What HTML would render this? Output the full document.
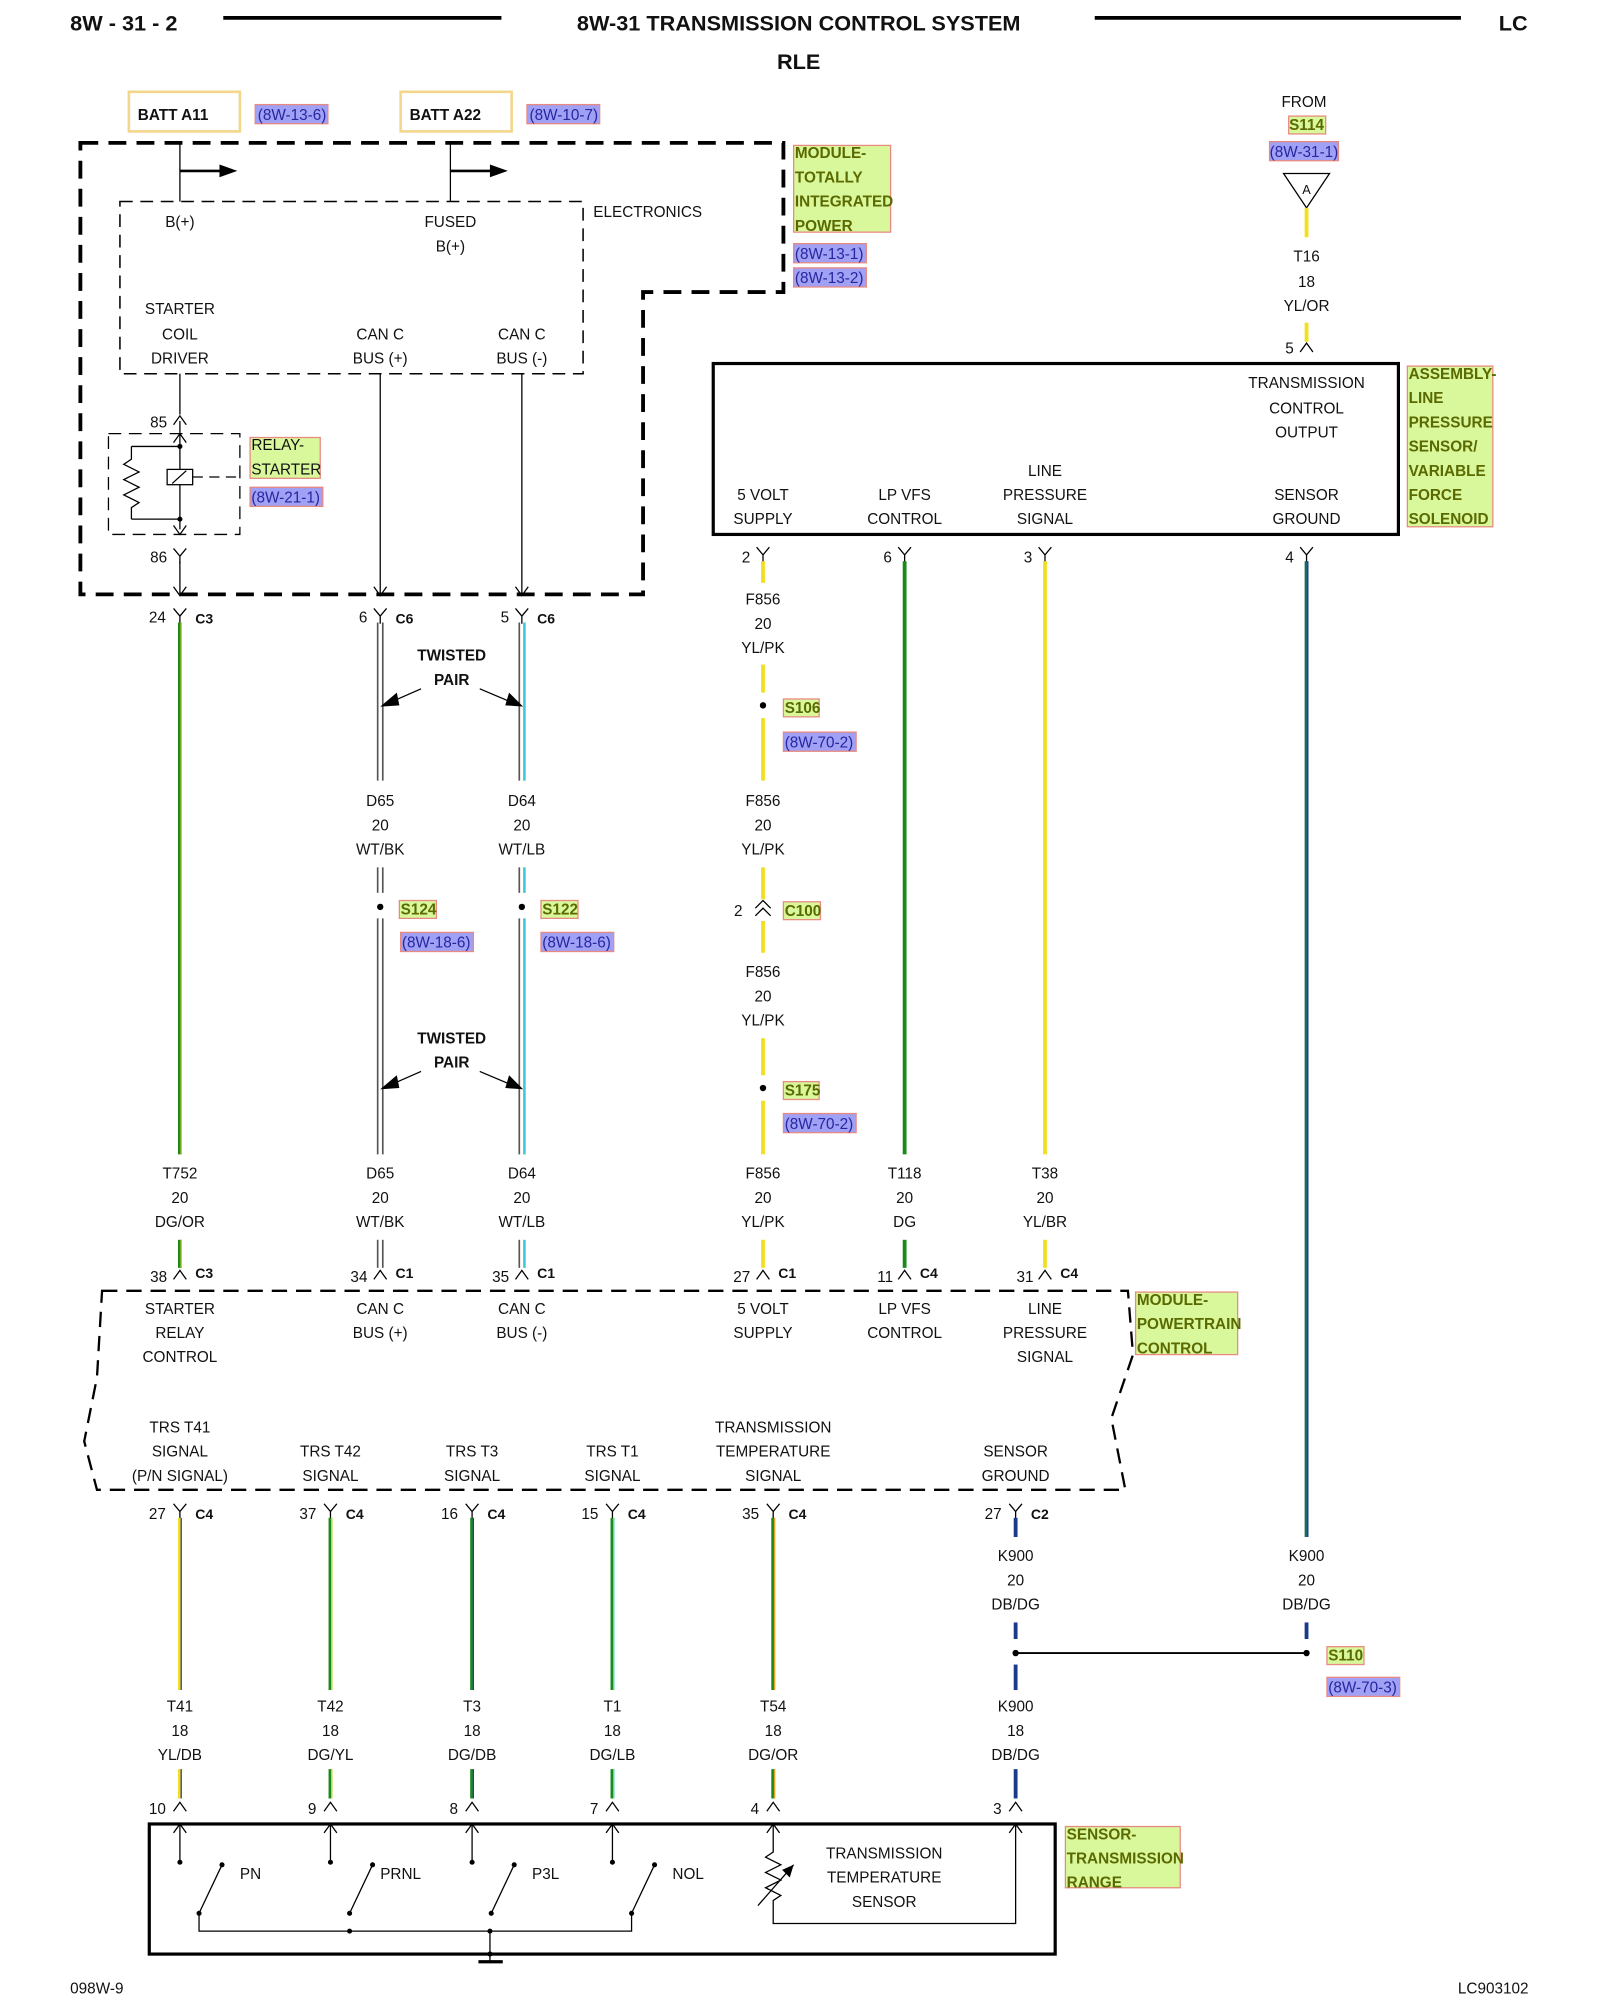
<!DOCTYPE html>
<html><head><meta charset="utf-8"><style>
html,body{margin:0;padding:0;background:#fff}
svg{display:block}
text{font-family:"Liberation Sans",Arial,sans-serif;font-size:12px;fill:#111}
.c{text-anchor:middle}
.b{font-weight:bold}
.h{font-size:17px;font-weight:bold}
.g{fill:#5a6a00;font-weight:bold}
.bl{fill:#2626a0}
</style></head><body>
<svg width="1600" height="2000" viewBox="0 0 1254 1568" preserveAspectRatio="none" xmlns="http://www.w3.org/2000/svg">
<defs>
<g id="fy"><path d="M-5,-6 L0,0 L5,-6 M0,0 V6" stroke="#000" fill="none" stroke-width="1"/></g>
<g id="fa"><path d="M-5,5 L0,-2 L5,5" stroke="#000" fill="none" stroke-width="1"/></g>
</defs>
<!-- header -->
<text x="55" y="24" class="h">8W - 31 - 2</text>
<line x1="175" y1="14" x2="393" y2="14" stroke="#000" stroke-width="3"/>
<text x="626" y="24" class="h c">8W-31 TRANSMISSION CONTROL SYSTEM</text>
<line x1="858" y1="14" x2="1145" y2="14" stroke="#000" stroke-width="3"/>
<text x="1186" y="24" class="h c">LC</text>
<text x="626" y="54" class="h c">RLE</text>

<!-- batt boxes -->
<rect x="101" y="72" width="87" height="31" fill="none" stroke="#f3d68a" stroke-width="2"/>
<text x="108" y="94" class="b">BATT A11</text>
<rect x="200" y="82" width="57" height="15" fill="#a0a0f5" stroke="#e98a80"/>
<text x="202" y="94" class="bl">(8W-13-6)</text>
<rect x="314" y="72" width="87" height="31" fill="none" stroke="#f3d68a" stroke-width="2"/>
<text x="321" y="94" class="b">BATT A22</text>
<rect x="413" y="82" width="57" height="15" fill="#a0a0f5" stroke="#e98a80"/>
<text x="415" y="94" class="bl">(8W-10-7)</text>

<!-- TIPM -->
<path d="M63,112 H614 V229 H504 V466 H63 Z" fill="none" stroke="#000" stroke-width="3" stroke-dasharray="14,8"/>
<rect x="94" y="158" width="363" height="135" fill="none" stroke="#000" stroke-width="1.2" stroke-dasharray="10,6"/>
<line x1="141" y1="112" x2="141" y2="158" stroke="#000"/>
<line x1="353" y1="112" x2="353" y2="158" stroke="#000"/>
<line x1="141" y1="134" x2="175" y2="134" stroke="#000" stroke-width="2"/>
<path d="M172,129 L186,134 L172,139 Z"/>
<line x1="353" y1="134" x2="387" y2="134" stroke="#000" stroke-width="2"/>
<path d="M384,129 L398,134 L384,139 Z"/>
<text x="141" y="178" class="c">B(+)</text>
<text x="353" y="178" class="c">FUSED</text>
<text x="353" y="197" class="c">B(+)</text>
<text x="465" y="170">ELECTRONICS</text>
<text x="141" y="246" class="c">STARTER</text>
<text x="141" y="266" class="c">COIL</text>
<text x="141" y="285" class="c">DRIVER</text>
<text x="298" y="266" class="c">CAN C</text>
<text x="298" y="285" class="c">BUS (+)</text>
<text x="409" y="266" class="c">CAN C</text>
<text x="409" y="285" class="c">BUS (-)</text>
<rect x="622" y="114" width="76" height="68" fill="#d9f79b" stroke="#e98a80"/>
<text x="623" y="124" class="g">MODULE-</text>
<text x="623" y="143" class="g">TOTALLY</text>
<text x="623" y="162" class="g">INTEGRATED</text>
<text x="623" y="181" class="g">POWER</text>
<rect x="622" y="191" width="57" height="15" fill="#a0a0f5" stroke="#e98a80"/>
<text x="623" y="203" class="bl">(8W-13-1)</text>
<rect x="622" y="210" width="57" height="15" fill="#a0a0f5" stroke="#e98a80"/>
<text x="623" y="222" class="bl">(8W-13-2)</text>

<!-- relay -->
<line x1="141" y1="293" x2="141" y2="325" stroke="#000"/>
<use href="#fa" x="141" y="328"/>
<text x="131" y="335" text-anchor="end">85</text>
<rect x="85" y="340" width="103" height="79" fill="none" stroke="#000" stroke-dasharray="10,6"/>
<line x1="141" y1="330" x2="141" y2="415" stroke="#000"/>
<path d="M141,350 H103 M141,407 H103" stroke="#000" fill="none"/>
<path d="M103,350 V360 L97,364 L109,370 L97,376 L109,382 L97,388 L109,394 L103,398 V407" stroke="#000" fill="none"/>
<rect x="131" y="368" width="20" height="12" fill="#fff" stroke="#000"/>
<line x1="135" y1="379" x2="146" y2="369" stroke="#000"/>
<line x1="151" y1="374" x2="185" y2="374" stroke="#000" stroke-dasharray="8,5"/>
<circle cx="141" cy="350" r="2"/><circle cx="141" cy="407" r="2"/>
<path d="M136,347 L141,340 L146,347 M136,412 L141,419 L146,412" stroke="#000" fill="none"/>
<rect x="196" y="343" width="55" height="32" fill="#d9f79b" stroke="#e98a80"/>
<text x="197" y="353" fill="#8a9a30">RELAY-</text>
<text x="197" y="372" fill="#8a9a30">STARTER</text>
<rect x="196" y="382" width="57" height="15" fill="#a0a0f5" stroke="#e98a80"/>
<text x="197" y="394" class="bl">(8W-21-1)</text>
<text x="131" y="441" text-anchor="end">86</text>
<use href="#fy" x="141" y="436"/>
<line x1="141" y1="440" x2="141" y2="466" stroke="#000"/>
<line x1="298" y1="293" x2="298" y2="466" stroke="#000"/>
<line x1="409" y1="293" x2="409" y2="466" stroke="#000"/>
<path d="M136,460 L141,467 L146,460 M293,460 L298,467 L303,460 M404,460 L409,467 L414,460" stroke="#000" fill="none"/>

<!-- top right -->
<text x="1022" y="84" class="c">FROM</text>
<rect x="1010" y="91" width="29" height="14" fill="#d9f79b" stroke="#e98a80"/>
<text x="1024" y="102" class="c g">S114</text>
<rect x="995" y="111" width="54" height="15" fill="#a0a0f5" stroke="#e98a80"/>
<text x="1022" y="123" class="c bl">(8W-31-1)</text>
<path d="M1006,136 L1042,136 L1024,163 Z" fill="#fff" stroke="#000"/>
<text x="1024" y="152" class="c" style="font-size:10px">A</text>
<line x1="1024" y1="163" x2="1024" y2="186" stroke="#f0e020" stroke-width="3"/>
<text x="1024" y="205" class="c">T16</text>
<text x="1024" y="225" class="c">18</text>
<text x="1024" y="244" class="c">YL/OR</text>
<line x1="1024" y1="253" x2="1024" y2="268" stroke="#f0e020" stroke-width="3"/>
<use href="#fa" x="1024" y="271"/>
<text x="1014" y="277" text-anchor="end">5</text>

<rect x="559" y="285" width="537" height="134" fill="none" stroke="#000" stroke-width="2.5"/>
<text x="1024" y="304" class="c">TRANSMISSION</text>
<text x="1024" y="324" class="c">CONTROL</text>
<text x="1024" y="343" class="c">OUTPUT</text>
<text x="819" y="373" class="c">LINE</text>
<text x="598" y="392" class="c">5 VOLT</text>
<text x="709" y="392" class="c">LP VFS</text>
<text x="819" y="392" class="c">PRESSURE</text>
<text x="1024" y="392" class="c">SENSOR</text>
<text x="598" y="411" class="c">SUPPLY</text>
<text x="709" y="411" class="c">CONTROL</text>
<text x="819" y="411" class="c">SIGNAL</text>
<text x="1024" y="411" class="c">GROUND</text>
<rect x="1103" y="287" width="67" height="126" fill="#d9f79b" stroke="#e98a80"/>
<text x="1104" y="297" class="g">ASSEMBLY-</text>
<text x="1104" y="316" class="g">LINE</text>
<text x="1104" y="335" class="g">PRESSURE</text>
<text x="1104" y="354" class="g">SENSOR/</text>
<text x="1104" y="373" class="g">VARIABLE</text>
<text x="1104" y="392" class="g">FORCE</text>
<text x="1104" y="411" class="g">SOLENOID</text>

<!-- connectors under box -->
<use href="#fy" x="598" y="435"/><text x="588" y="441" text-anchor="end">2</text>
<use href="#fy" x="709" y="435"/><text x="699" y="441" text-anchor="end">6</text>
<use href="#fy" x="819" y="435"/><text x="809" y="441" text-anchor="end">3</text>
<use href="#fy" x="1024" y="435"/><text x="1014" y="441" text-anchor="end">4</text>

<!-- 598 yellow wire -->
<g stroke="#f0e020" stroke-width="3">
<line x1="598" y1="440" x2="598" y2="457"/>
<line x1="598" y1="521" x2="598" y2="543"/>
<line x1="598" y1="563" x2="598" y2="612"/>
<line x1="598" y1="680" x2="598" y2="705"/>
<line x1="598" y1="722" x2="598" y2="747"/>
<line x1="598" y1="814" x2="598" y2="843"/>
<line x1="598" y1="863" x2="598" y2="905"/>
<line x1="598" y1="972" x2="598" y2="994"/>
<line x1="819" y1="440" x2="819" y2="905"/>
<line x1="819" y1="972" x2="819" y2="994"/>
</g>
<line x1="709" y1="440" x2="709" y2="905" stroke="#1a8a1a" stroke-width="3"/>
<line x1="709" y1="972" x2="709" y2="994" stroke="#1a8a1a" stroke-width="3"/>
<line x1="1024" y1="440" x2="1024" y2="1205" stroke="#1a6a6a" stroke-width="3"/>
<line x1="1025" y1="440" x2="1025" y2="1205" stroke="#1a3a9a" stroke-width="1"/>
<text x="598" y="474" class="c">F856</text><text x="598" y="493" class="c">20</text><text x="598" y="512" class="c">YL/PK</text>
<circle cx="598" cy="553" r="2.5"/>
<rect x="614" y="548" width="28" height="14" fill="#d9f79b" stroke="#e98a80"/><text x="615" y="559" class="g">S106</text>
<rect x="614" y="574" width="57" height="15" fill="#a0a0f5" stroke="#e98a80"/><text x="615" y="586" class="bl">(8W-70-2)</text>
<text x="598" y="632" class="c">F856</text><text x="598" y="651" class="c">20</text><text x="598" y="670" class="c">YL/PK</text>
<path d="M592,712 L598,706 L604,712 M592,718 L598,712 L604,718" stroke="#000" fill="none"/>
<text x="582" y="718" text-anchor="end">2</text>
<rect x="614" y="707" width="29" height="14" fill="#d9f79b" stroke="#e98a80"/><text x="615" y="718" class="g">C100</text>
<text x="598" y="766" class="c">F856</text><text x="598" y="785" class="c">20</text><text x="598" y="804" class="c">YL/PK</text>
<circle cx="598" cy="853" r="2.5"/>
<rect x="614" y="848" width="28" height="14" fill="#d9f79b" stroke="#e98a80"/><text x="615" y="859" class="g">S175</text>
<rect x="614" y="873" width="57" height="15" fill="#a0a0f5" stroke="#e98a80"/><text x="615" y="885" class="bl">(8W-70-2)</text>

<!-- C3/C6 connectors -->
<use href="#fy" x="141" y="483"/><text x="130" y="488" text-anchor="end">24</text><text x="153" y="489" class="b" style="font-size:11px">C3</text>
<use href="#fy" x="298" y="483"/><text x="288" y="488" text-anchor="end">6</text><text x="310" y="489" class="b" style="font-size:11px">C6</text>
<use href="#fy" x="409" y="483"/><text x="399" y="488" text-anchor="end">5</text><text x="421" y="489" class="b" style="font-size:11px">C6</text>
<!-- 141 DG/OR -->
<line x1="141" y1="488" x2="141" y2="905" stroke="#1a8a1a" stroke-width="3"/>
<line x1="142" y1="488" x2="142" y2="905" stroke="#e0d020" stroke-width="1"/>
<line x1="141" y1="972" x2="141" y2="994" stroke="#1a8a1a" stroke-width="3"/>
<line x1="142" y1="972" x2="142" y2="994" stroke="#e0d020" stroke-width="1"/>
<!-- twisted pairs -->
<g stroke-width="1.3">
<line x1="296" y1="488" x2="296" y2="612" stroke="#555"/><line x1="300" y1="488" x2="300" y2="612" stroke="#555"/>
<line x1="296" y1="680" x2="296" y2="700" stroke="#555"/><line x1="300" y1="680" x2="300" y2="700" stroke="#555"/>
<line x1="296" y1="720" x2="296" y2="905" stroke="#555"/><line x1="300" y1="720" x2="300" y2="905" stroke="#555"/>
<line x1="296" y1="972" x2="296" y2="994" stroke="#555"/><line x1="300" y1="972" x2="300" y2="994" stroke="#555"/>
<line x1="407" y1="488" x2="407" y2="612" stroke="#555"/><line x1="411" y1="488" x2="411" y2="612" stroke="#3cc8d8" stroke-width="2"/>
<line x1="407" y1="680" x2="407" y2="700" stroke="#555"/><line x1="411" y1="680" x2="411" y2="700" stroke="#3cc8d8" stroke-width="2"/>
<line x1="407" y1="720" x2="407" y2="905" stroke="#555"/><line x1="411" y1="720" x2="411" y2="905" stroke="#3cc8d8" stroke-width="2"/>
<line x1="407" y1="972" x2="407" y2="994" stroke="#555"/><line x1="411" y1="972" x2="411" y2="994" stroke="#3cc8d8" stroke-width="2"/>
</g>
<text x="354" y="518" class="c b">TWISTED</text><text x="354" y="537" class="c b">PAIR</text>
<line x1="330" y1="540" x2="305" y2="551" stroke="#000"/><path d="M298,554 L311,543 L313,553 Z"/>
<line x1="376" y1="540" x2="402" y2="551" stroke="#000"/><path d="M410,554 L396,553 L399,543 Z"/>
<text x="354" y="818" class="c b">TWISTED</text><text x="354" y="837" class="c b">PAIR</text>
<line x1="330" y1="840" x2="305" y2="851" stroke="#000"/><path d="M298,854 L311,843 L313,853 Z"/>
<line x1="376" y1="840" x2="402" y2="851" stroke="#000"/><path d="M410,854 L396,853 L399,843 Z"/>
<text x="298" y="632" class="c">D65</text><text x="298" y="651" class="c">20</text><text x="298" y="670" class="c">WT/BK</text>
<text x="409" y="632" class="c">D64</text><text x="409" y="651" class="c">20</text><text x="409" y="670" class="c">WT/LB</text>
<circle cx="298" cy="711" r="2.5"/><circle cx="409" cy="711" r="2.5"/>
<rect x="313" y="706" width="29" height="14" fill="#d9f79b" stroke="#e98a80"/><text x="314" y="717" class="g">S124</text>
<rect x="424" y="706" width="29" height="14" fill="#d9f79b" stroke="#e98a80"/><text x="425" y="717" class="g">S122</text>
<rect x="314" y="731" width="57" height="15" fill="#a0a0f5" stroke="#e98a80"/><text x="315" y="743" class="bl">(8W-18-6)</text>
<rect x="424" y="731" width="57" height="15" fill="#a0a0f5" stroke="#e98a80"/><text x="425" y="743" class="bl">(8W-18-6)</text>

<!-- labels row 924 -->
<text x="141" y="924" class="c">T752</text><text x="141" y="943" class="c">20</text><text x="141" y="962" class="c">DG/OR</text>
<text x="298" y="924" class="c">D65</text><text x="298" y="943" class="c">20</text><text x="298" y="962" class="c">WT/BK</text>
<text x="409" y="924" class="c">D64</text><text x="409" y="943" class="c">20</text><text x="409" y="962" class="c">WT/LB</text>
<text x="598" y="924" class="c">F856</text><text x="598" y="943" class="c">20</text><text x="598" y="962" class="c">YL/PK</text>
<text x="709" y="924" class="c">T118</text><text x="709" y="943" class="c">20</text><text x="709" y="962" class="c">DG</text>
<text x="819" y="924" class="c">T38</text><text x="819" y="943" class="c">20</text><text x="819" y="962" class="c">YL/BR</text>
<!-- PCM connectors -->
<use href="#fa" x="141" y="998"/><text x="131" y="1005" text-anchor="end">38</text><text x="153" y="1002" class="b" style="font-size:11px">C3</text>
<use href="#fa" x="298" y="998"/><text x="288" y="1005" text-anchor="end">34</text><text x="310" y="1002" class="b" style="font-size:11px">C1</text>
<use href="#fa" x="409" y="998"/><text x="399" y="1005" text-anchor="end">35</text><text x="421" y="1002" class="b" style="font-size:11px">C1</text>
<use href="#fa" x="598" y="998"/><text x="588" y="1005" text-anchor="end">27</text><text x="610" y="1002" class="b" style="font-size:11px">C1</text>
<use href="#fa" x="709" y="998"/><text x="700" y="1005" text-anchor="end">11</text><text x="721" y="1002" class="b" style="font-size:11px">C4</text>
<use href="#fa" x="819" y="998"/><text x="810" y="1005" text-anchor="end">31</text><text x="831" y="1002" class="b" style="font-size:11px">C4</text>

<path d="M80,1012 H884 L888,1062 L871,1112 L882,1168 H76 L66,1130 L76,1080 Z" fill="none" stroke="#000" stroke-width="1.8" stroke-dasharray="12,7"/>
<text x="141" y="1030" class="c">STARTER</text><text x="141" y="1049" class="c">RELAY</text><text x="141" y="1068" class="c">CONTROL</text>
<text x="298" y="1030" class="c">CAN C</text><text x="298" y="1049" class="c">BUS (+)</text>
<text x="409" y="1030" class="c">CAN C</text><text x="409" y="1049" class="c">BUS (-)</text>
<text x="598" y="1030" class="c">5 VOLT</text><text x="598" y="1049" class="c">SUPPLY</text>
<text x="709" y="1030" class="c">LP VFS</text><text x="709" y="1049" class="c">CONTROL</text>
<text x="819" y="1030" class="c">LINE</text><text x="819" y="1049" class="c">PRESSURE</text><text x="819" y="1068" class="c">SIGNAL</text>
<rect x="890" y="1013" width="80" height="49" fill="#d9f79b" stroke="#e98a80"/>
<text x="891" y="1023" class="g">MODULE-</text><text x="891" y="1042" class="g">POWERTRAIN</text><text x="891" y="1061" class="g">CONTROL</text>
<text x="141" y="1123" class="c">TRS T41</text><text x="141" y="1142" class="c">SIGNAL</text><text x="141" y="1161" class="c">(P/N SIGNAL)</text>
<text x="259" y="1142" class="c">TRS T42</text><text x="259" y="1161" class="c">SIGNAL</text>
<text x="370" y="1142" class="c">TRS T3</text><text x="370" y="1161" class="c">SIGNAL</text>
<text x="480" y="1142" class="c">TRS T1</text><text x="480" y="1161" class="c">SIGNAL</text>
<text x="606" y="1123" class="c">TRANSMISSION</text><text x="606" y="1142" class="c">TEMPERATURE</text><text x="606" y="1161" class="c">SIGNAL</text>
<text x="796" y="1142" class="c">SENSOR</text><text x="796" y="1161" class="c">GROUND</text>

<!-- lower wires -->
<g>
<use href="#fy" x="141" y="1185"/><text x="130" y="1191" text-anchor="end">27</text><text x="153" y="1191" class="b" style="font-size:11px">C4</text>
<use href="#fy" x="259" y="1185"/><text x="248" y="1191" text-anchor="end">37</text><text x="271" y="1191" class="b" style="font-size:11px">C4</text>
<use href="#fy" x="370" y="1185"/><text x="359" y="1191" text-anchor="end">16</text><text x="382" y="1191" class="b" style="font-size:11px">C4</text>
<use href="#fy" x="480" y="1185"/><text x="469" y="1191" text-anchor="end">15</text><text x="492" y="1191" class="b" style="font-size:11px">C4</text>
<use href="#fy" x="606" y="1185"/><text x="595" y="1191" text-anchor="end">35</text><text x="618" y="1191" class="b" style="font-size:11px">C4</text>
<use href="#fy" x="796" y="1185"/><text x="785" y="1191" text-anchor="end">27</text><text x="808" y="1191" class="b" style="font-size:11px">C2</text>
</g>
<g stroke-width="3">
<line x1="141" y1="1190" x2="141" y2="1325" stroke="#f0e020"/>
<line x1="259" y1="1190" x2="259" y2="1325" stroke="#1a8a1a"/>
<line x1="370" y1="1190" x2="370" y2="1325" stroke="#1a8a1a"/>
<line x1="480" y1="1190" x2="480" y2="1325" stroke="#1a8a1a"/>
<line x1="606" y1="1190" x2="606" y2="1325" stroke="#1a8a1a"/>
<line x1="796" y1="1190" x2="796" y2="1205" stroke="#1a3a8a"/>
<line x1="796" y1="1272" x2="796" y2="1285" stroke="#1a3a8a"/>
<line x1="796" y1="1305" x2="796" y2="1325" stroke="#1a3a8a"/>
<line x1="1024" y1="1272" x2="1024" y2="1285" stroke="#1a3a8a"/>
<line x1="141" y1="1387" x2="141" y2="1410" stroke="#f0e020"/>
<line x1="259" y1="1387" x2="259" y2="1410" stroke="#1a8a1a"/>
<line x1="370" y1="1387" x2="370" y2="1410" stroke="#1a8a1a"/>
<line x1="480" y1="1387" x2="480" y2="1410" stroke="#1a8a1a"/>
<line x1="606" y1="1387" x2="606" y2="1410" stroke="#1a8a1a"/>
<line x1="796" y1="1387" x2="796" y2="1410" stroke="#1a3a8a"/>
</g>
<g stroke-width="1">
<line x1="142" y1="1190" x2="142" y2="1325" stroke="#2a3aa0"/><line x1="142" y1="1387" x2="142" y2="1410" stroke="#2a3aa0"/>
<line x1="260" y1="1190" x2="260" y2="1325" stroke="#e0e020"/><line x1="260" y1="1387" x2="260" y2="1410" stroke="#e0e020"/>
<line x1="371" y1="1190" x2="371" y2="1325" stroke="#2a3aa0"/><line x1="371" y1="1387" x2="371" y2="1410" stroke="#2a3aa0"/>
<line x1="481" y1="1190" x2="481" y2="1325" stroke="#50e0e0"/><line x1="481" y1="1387" x2="481" y2="1410" stroke="#50e0e0"/>
<line x1="607" y1="1190" x2="607" y2="1325" stroke="#e0a020"/><line x1="607" y1="1387" x2="607" y2="1410" stroke="#e0a020"/>
</g>
<text x="796" y="1224" class="c">K900</text><text x="796" y="1243" class="c">20</text><text x="796" y="1262" class="c">DB/DG</text>
<text x="1024" y="1224" class="c">K900</text><text x="1024" y="1243" class="c">20</text><text x="1024" y="1262" class="c">DB/DG</text>
<line x1="796" y1="1296" x2="1024" y2="1296" stroke="#000" stroke-width="1.5"/>
<circle cx="796" cy="1296" r="2.5"/><circle cx="1024" cy="1296" r="2.5"/>
<rect x="1040" y="1291" width="29" height="14" fill="#d9f79b" stroke="#e98a80"/><text x="1041" y="1302" class="g">S110</text>
<rect x="1040" y="1315" width="57" height="15" fill="#a0a0f5" stroke="#e98a80"/><text x="1041" y="1327" class="bl">(8W-70-3)</text>
<text x="141" y="1342" class="c">T41</text><text x="141" y="1361" class="c">18</text><text x="141" y="1380" class="c">YL/DB</text>
<text x="259" y="1342" class="c">T42</text><text x="259" y="1361" class="c">18</text><text x="259" y="1380" class="c">DG/YL</text>
<text x="370" y="1342" class="c">T3</text><text x="370" y="1361" class="c">18</text><text x="370" y="1380" class="c">DG/DB</text>
<text x="480" y="1342" class="c">T1</text><text x="480" y="1361" class="c">18</text><text x="480" y="1380" class="c">DG/LB</text>
<text x="606" y="1342" class="c">T54</text><text x="606" y="1361" class="c">18</text><text x="606" y="1380" class="c">DG/OR</text>
<text x="796" y="1342" class="c">K900</text><text x="796" y="1361" class="c">18</text><text x="796" y="1380" class="c">DB/DG</text>
<use href="#fa" x="141" y="1415"/><text x="130" y="1422" text-anchor="end">10</text>
<use href="#fa" x="259" y="1415"/><text x="248" y="1422" text-anchor="end">9</text>
<use href="#fa" x="370" y="1415"/><text x="359" y="1422" text-anchor="end">8</text>
<use href="#fa" x="480" y="1415"/><text x="469" y="1422" text-anchor="end">7</text>
<use href="#fa" x="606" y="1415"/><text x="595" y="1422" text-anchor="end">4</text>
<use href="#fa" x="796" y="1415"/><text x="785" y="1422" text-anchor="end">3</text>

<!-- sensor box -->
<rect x="117" y="1430" width="710" height="102" fill="none" stroke="#000" stroke-width="2.5"/>
<g stroke="#000" fill="none">
<path d="M136,1437 L141,1430 L146,1437 M141,1430 V1460"/>
<path d="M254,1437 L259,1430 L264,1437 M259,1430 V1460"/>
<path d="M365,1437 L370,1430 L375,1437 M370,1430 V1460"/>
<path d="M475,1437 L480,1430 L485,1437 M480,1430 V1460"/>
<path d="M601,1437 L606,1430 L611,1437 M606,1430 V1452 L600,1456 L612,1462 L600,1468 L612,1474 L600,1480 L612,1486 L606,1490 V1508 H796 V1430 M791,1437 L796,1430 L801,1437"/>
<path d="M594,1494 L622,1462"/>
<path d="M156,1500 L174,1462 M274,1500 L292,1462 M385,1500 L403,1462 M495,1500 L513,1462"/>
<path d="M156,1500 V1514 H495 V1500"/>
<path d="M384,1514 V1538 M375,1538 H394"/>
</g>
<path d="M622,1462 L613,1466 L619,1472 Z"/>
<g>
<circle cx="141" cy="1460" r="2"/><circle cx="259" cy="1460" r="2"/><circle cx="370" cy="1460" r="2"/><circle cx="480" cy="1460" r="2"/>
<circle cx="174" cy="1462" r="2"/><circle cx="292" cy="1462" r="2"/><circle cx="403" cy="1462" r="2"/><circle cx="513" cy="1462" r="2"/>
<circle cx="156" cy="1500" r="2"/><circle cx="274" cy="1500" r="2"/><circle cx="385" cy="1500" r="2"/><circle cx="495" cy="1500" r="2"/>
<circle cx="274" cy="1514" r="2"/><circle cx="384" cy="1514" r="2"/><circle cx="384" cy="1532" r="2"/>
</g>
<line x1="375" y1="1538" x2="394" y2="1538" stroke="#000" stroke-width="2.5"/>
<text x="188" y="1473">PN</text><text x="298" y="1473">PRNL</text><text x="417" y="1473">P3L</text><text x="527" y="1473">NOL</text>
<text x="693" y="1457" class="c">TRANSMISSION</text><text x="693" y="1476" class="c">TEMPERATURE</text><text x="693" y="1495" class="c">SENSOR</text>
<rect x="835" y="1432" width="90" height="48" fill="#d9f79b" stroke="#e98a80"/>
<text x="836" y="1442" class="g">SENSOR-</text><text x="836" y="1461" class="g">TRANSMISSION</text><text x="836" y="1480" class="g">RANGE</text>
<text x="55" y="1563">098W-9</text>
<text x="1198" y="1563" text-anchor="end">LC903102</text>
</svg>
</body></html>
